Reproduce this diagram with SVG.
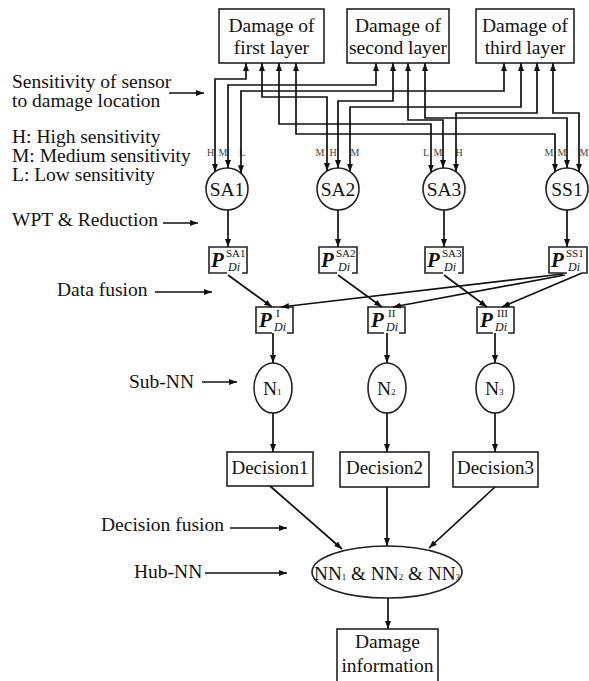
<svg xmlns="http://www.w3.org/2000/svg" width="589" height="681" viewBox="0 0 589 681">
<defs>
<marker id="ah" viewBox="0 0 8 6" refX="8" refY="3" markerWidth="8" markerHeight="6" markerUnits="userSpaceOnUse" orient="auto-start-reverse"><path d="M0,0 L8,3 L0,6 z" fill="#111"/></marker>
<style>
.ln{stroke:#111;stroke-width:1.7;fill:none}
.a{marker-end:url(#ah)}
.b{marker-start:url(#ah);marker-end:url(#ah)}
.bx{stroke:#222;stroke-width:1.6;fill:#fff}
.pb{stroke:#222;stroke-width:1.6;fill:none}
text{font-family:"Liberation Serif","Times New Roman",serif;fill:#111}
.t{font-size:19.5px}
.c{text-anchor:middle}
.hl{font-size:10px;fill:#444;text-anchor:middle}
.P{font-size:21px;font-weight:bold;font-style:italic}
.sup{font-size:11px}
.di{font-size:12px;font-style:italic}
.sub{font-size:9px}
</style>
</defs>
<rect width="589" height="681" fill="#fff"/>

<g id="labels-left">
<text class="t" x="12" y="88">Sensitivity of sensor</text>
<text class="t" x="12" y="107">to damage location</text>
<text class="t" x="12" y="143">H: High sensitivity</text>
<text class="t" x="12" y="162">M: Medium sensitivity</text>
<text class="t" x="12" y="181">L: Low sensitivity</text>
<text class="t" x="12" y="226">WPT &amp; Reduction</text>
<text class="t" x="57" y="296">Data fusion</text>
<text class="t" x="129" y="388">Sub-NN</text>
<text class="t" x="101" y="531">Decision fusion</text>
<text class="t" x="134" y="578">Hub-NN</text>
</g>

<g id="layer1"><rect class="bx" x="219" y="9" width="105" height="54"/><text class="t c" x="271.5" y="32">Damage of</text><text class="t c" x="271.5" y="54">first layer</text></g>
<g id="layer2"><rect class="bx" x="347" y="9" width="102" height="54"/><text class="t c" x="398" y="32">Damage of</text><text class="t c" x="398" y="54">second layer</text></g>
<g id="layer3"><rect class="bx" x="476" y="9" width="98" height="54"/><text class="t c" x="525" y="32">Damage of</text><text class="t c" x="525" y="54">third layer</text></g>

<g id="SA1"><circle class="bx" cx="227" cy="189" r="21"/><text class="t c" x="227" y="196">SA1</text></g>
<g id="SA2"><circle class="bx" cx="338" cy="189" r="21"/><text class="t c" x="338" y="196">SA2</text></g>
<g id="SA3"><circle class="bx" cx="444" cy="189" r="21"/><text class="t c" x="444" y="196">SA3</text></g>
<g id="SS1"><circle class="bx" cx="567" cy="189" r="21"/><text class="t c" x="567" y="196">SS1</text></g>

<g id="sens-labels">
<text class="hl" x="210.5" y="156">H</text><text class="hl" x="223" y="156">M</text><text class="hl" x="242" y="156">L</text>
<text class="hl" x="320" y="156">M</text><text class="hl" x="333" y="156">H</text><text class="hl" x="355" y="156">M</text>
<text class="hl" x="426" y="156">L</text><text class="hl" x="438" y="156">M</text><text class="hl" x="459" y="156">H</text>
<text class="hl" x="549" y="156">M</text><text class="hl" x="562" y="156">M</text><text class="hl" x="584" y="156">M</text>
</g>

<g id="P-SA1"><path class="pb" d="M227,273 H209 V247 H247 V273 H242"/><text class="P" x="211" y="267">P</text><text class="sup" x="226" y="257">SA1</text><text class="di" x="228" y="271">Di</text></g>
<g id="P-SA2"><path class="pb" d="M337,273 H319 V247 H357 V273 H352"/><text class="P" x="321" y="267">P</text><text class="sup" x="336" y="257">SA2</text><text class="di" x="338" y="271">Di</text></g>
<g id="P-SA3"><path class="pb" d="M443,273 H425 V247 H463 V273 H458"/><text class="P" x="427" y="267">P</text><text class="sup" x="442" y="257">SA3</text><text class="di" x="444" y="271">Di</text></g>
<g id="P-SS1"><path class="pb" d="M567,273 H549 V247 H587 V273 H582"/><text class="P" x="551" y="267">P</text><text class="sup" x="566" y="257">SS1</text><text class="di" x="568" y="271">Di</text></g>

<g id="P-I"><path class="pb" d="M272,333 H256 V307 H293 V333 H287"/><text class="P" x="259" y="327">P</text><text class="sup" x="276" y="317">I</text><text class="di" x="274" y="331">Di</text></g>
<g id="P-II"><path class="pb" d="M384,333 H368 V307 H405 V333 H399"/><text class="P" x="371" y="327">P</text><text class="sup" x="388" y="317">II</text><text class="di" x="386" y="331">Di</text></g>
<g id="P-III"><path class="pb" d="M493,333 H477 V307 H514 V333 H508"/><text class="P" x="480" y="327">P</text><text class="sup" x="497" y="317">III</text><text class="di" x="495" y="331">Di</text></g>

<g id="N1"><ellipse class="bx" cx="273" cy="388" rx="19" ry="25"/><text class="t" x="263" y="395">N<tspan class="sub">1</tspan></text></g>
<g id="N2"><ellipse class="bx" cx="387" cy="388" rx="19" ry="25"/><text class="t" x="377" y="395">N<tspan class="sub">2</tspan></text></g>
<g id="N3"><ellipse class="bx" cx="495" cy="388" rx="19" ry="25"/><text class="t" x="485" y="395">N<tspan class="sub">3</tspan></text></g>

<g id="D1"><rect class="bx" x="227" y="452" width="86" height="34"/><text class="c" style="font-size:19px" x="270" y="474">Decision1</text></g>
<g id="D2"><rect class="bx" x="340" y="452" width="89" height="35"/><text class="c" style="font-size:19px" x="384.5" y="474">Decision2</text></g>
<g id="D3"><rect class="bx" x="453" y="452" width="85" height="35"/><text class="c" style="font-size:19px" x="495.5" y="474">Decision3</text></g>

<g id="hub"><ellipse class="bx" cx="387" cy="572" rx="75" ry="26"/><text class="t" x="314" y="580" textLength="146" lengthAdjust="spacingAndGlyphs">NN<tspan class="sub">1</tspan> &amp; NN<tspan class="sub">2</tspan> &amp; NN<tspan class="sub">3</tspan></text></g>

<g id="damage-info"><rect class="bx" x="337" y="629" width="101" height="62"/><text class="t c" x="387.5" y="648">Damage</text><text class="t c" x="387.5" y="672">information</text></g>

<g id="connectors">
<path class="ln a" d="M169,93 H204"/>
<path class="ln a" d="M163,223 H198"/>
<path class="ln a" d="M155,292 H212"/>
<path class="ln a" d="M202,382 H237"/>
<path class="ln a" d="M230,528 H287"/>
<path class="ln a" d="M205,573 H287"/>

<path class="ln b" d="M246,63 V79 H215 V171.8"/>
<path class="ln b" d="M376,63 V85 H228 V168"/>
<path class="ln b" d="M504,63 V91 H241 V173.3"/>
<path class="ln b" d="M262,63 V97 H327 V171.1"/>
<path class="ln b" d="M393,63 V101 H338 V168"/>
<path class="ln b" d="M521,63 V107 H350 V171.8"/>
<path class="ln b" d="M279,63 V124 H431 V172.5"/>
<path class="ln b" d="M408,63 V120 H443 V168"/>
<path class="ln b" d="M537,63 V113 H456 V171.8"/>
<path class="ln b" d="M296,63 V134 H555 V171.8"/>
<path class="ln b" d="M425,63 V118 H567 V168"/>
<path class="ln b" d="M553,63 V113 H579 V171.8"/>

<path class="ln a" d="M228,210 V247"/>
<path class="ln a" d="M338,210 V247"/>
<path class="ln a" d="M444,210 V247"/>
<path class="ln a" d="M567,210 V247"/>

<path class="ln a" d="M228,275 L272,307"/>
<path class="ln a" d="M338,275 L382,307"/>
<path class="ln a" d="M444,275 L487,307"/>
<path class="ln a" d="M563,274 L281,307"/>
<path class="ln a" d="M565,275 L393,307"/>
<path class="ln a" d="M582,273 L502,307"/>

<path class="ln a" d="M273,333 V363"/>
<path class="ln a" d="M387,333 V363"/>
<path class="ln a" d="M495,333 V363"/>

<path class="ln a" d="M273,413 V452"/>
<path class="ln a" d="M387,413 V452"/>
<path class="ln a" d="M495,413 V452"/>

<path class="ln a" d="M270,486 L342,549"/>
<path class="ln a" d="M387,487 V546"/>
<path class="ln a" d="M495,487 L429,548"/>

<path class="ln a" d="M388,598 V629"/>
</g>
</svg>
